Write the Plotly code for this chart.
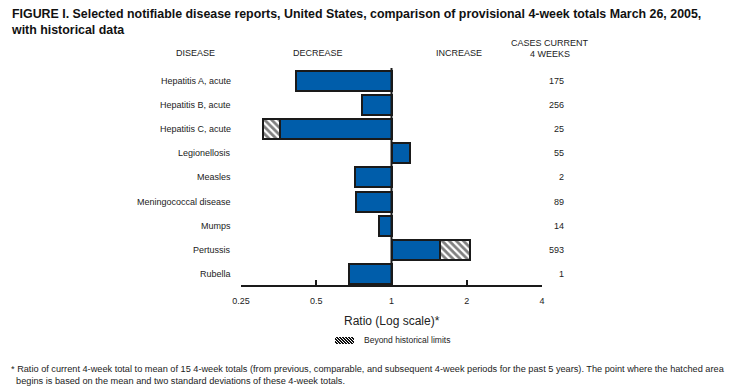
import math
import plotly.graph_objects as go

diseases = ["Hepatitis A, acute", "Hepatitis B, acute", "Hepatitis C, acute",
            "Legionellosis", "Measles", "Meningococcal disease", "Mumps",
            "Pertussis", "Rubella"]
ratio = [0.414, 0.763, 0.357, 1.19, 0.712, 0.721, 0.895, 1.557, 0.678]
hatch_start = [None, None, 0.305, None, None, None, None, 1.557, None]
hatch_end = [None, None, 0.357, None, None, None, None, 2.06, None]
cases = [175, 256, 25, 55, 2, 89, 14, 593, 1]
tick_vals = [0.25, 0.5, 1, 2, 4]
tick_text = ["0.25", "0.5", "1", "2", "4"]

W, H = 740, 389
L, R, T, B = 241, 542, 68, 285
FONT = "Liberation Sans, Arial, sans-serif"
BLUE = "#005DAA"
EDGE = "#1a1a1a"


def px(xp):
    return (xp - L) / (R - L)


def py(yp):
    return (B - yp) / (B - T)


fig = go.Figure()

# blue part from 1 to ratio
fig.add_trace(go.Bar(
    y=diseases, x=[r - 1 for r in ratio], base=[1] * len(ratio),
    orientation="h", width=0.83,
    marker=dict(color=BLUE, line=dict(color=EDGE, width=2)),
    showlegend=False, hoverinfo="skip"))

# hatched part
hy, hx, hb = [], [], []
for d, s, e in zip(diseases, hatch_start, hatch_end):
    if s is not None:
        hy.append(d)
        hb.append(s)
        hx.append(e - s)
fig.add_trace(go.Bar(
    y=hy, x=hx, base=hb, orientation="h", width=0.83,
    name="Beyond historical limits",
    marker=dict(color="white", line=dict(color=EDGE, width=2),
                pattern=dict(shape="\\", fgcolor="black", bgcolor="white",
                             size=5, solidity=0.55)),
    showlegend=False, hoverinfo="skip"))

ann = []
for d, c in zip(diseases, cases):
    ann.append(dict(x=px(233), xref="paper", y=d, yref="y", text=d,
                    xanchor="right", yanchor="middle", showarrow=False,
                    font=dict(size=9, color="#222")))
    ann.append(dict(x=px(566), xref="paper", y=d, yref="y", text=str(c),
                    xanchor="right", yanchor="middle", showarrow=False,
                    font=dict(size=9, color="#222")))

# headers
ann += [
    dict(x=px(195), y=py(53), text="DISEASE", xanchor="center"),
    dict(x=px(318), y=py(53), text="DECREASE", xanchor="center"),
    dict(x=px(459), y=py(53), text="INCREASE", xanchor="center"),
    dict(x=px(550), y=py(43), text="CASES CURRENT", xanchor="center"),
    dict(x=px(550), y=py(54), text="4 WEEKS", xanchor="center"),
]
for a in ann[-5:]:
    a.update(xref="paper", yref="paper", yanchor="middle", showarrow=False,
             font=dict(size=9, color="#222"))

ann.append(dict(x=px(9), y=py(5), xref="paper", yref="paper", xanchor="left",
                yanchor="top", showarrow=False, align="left",
                text="<b>FIGURE I. Selected notifiable disease reports, United States, comparison of provisional 4-week totals March 26, 2005,<br>with historical data</b>",
                font=dict(size=12.4, color="#111")))
ann.append(dict(x=px(392), y=py(321), xref="paper", yref="paper", xanchor="center",
                yanchor="middle", showarrow=False, text="Ratio (Log scale)*",
                font=dict(size=12, color="#222")))
ann.append(dict(x=px(362), y=py(340), xref="paper", yref="paper", xanchor="left",
                yanchor="middle", showarrow=False, text="Beyond historical limits",
                font=dict(size=8.5, color="#222")))
ann.append(dict(x=px(9), y=py(362), xref="paper", yref="paper", xanchor="left",
                yanchor="top", showarrow=False, align="left",
                text="* Ratio of current 4-week total to mean of 15 4-week totals (from previous, comparable, and subsequent 4-week periods for the past 5 years). The point where the hatched area<br>  begins is based on the mean and two standard deviations of these 4-week totals.",
                font=dict(size=9.2, color="#222")))

shapes = [dict(type="line", xref="x", yref="paper", x0=1, x1=1, y0=0, y1=1,
               line=dict(color=EDGE, width=2))]

# legend key: small hatched box
bx0, bx1, by0, by1 = 335, 354, 337, 344
shapes.append(dict(type="rect", xref="paper", yref="paper",
                   x0=px(bx0), x1=px(bx1), y0=py(by1), y1=py(by0),
                   fillcolor="#111", line=dict(width=0)))
hgt = by1 - by0
k = bx0 - hgt + 1
while k < bx1:
    t0 = max(0, bx0 - k)
    t1 = min(hgt, bx1 - k)
    if t1 > t0:
        shapes.append(dict(type="line", xref="paper", yref="paper",
                           x0=px(k + t0), y0=py(by0 + t0),
                           x1=px(k + t1), y1=py(by0 + t1),
                           line=dict(color="white", width=1)))
    k += 3

fig.update_layout(
    width=W, height=H,
    margin=dict(l=L, r=W - R, t=T, b=H - B, pad=0),
    paper_bgcolor="white", plot_bgcolor="white",
    barmode="overlay", bargap=0,
    font=dict(family=FONT, color="#222"),
    annotations=ann,
    shapes=shapes,
    showlegend=False,
    xaxis=dict(type="log", range=[math.log10(0.25), math.log10(4)],
               tickvals=tick_vals, ticktext=tick_text,
               showline=True, linecolor=EDGE, linewidth=1.5,
               ticks="inside", ticklen=5, tickwidth=1.5, tickcolor=EDGE,
               showgrid=False, zeroline=False,
               tickfont=dict(size=9), ticklabelstandoff=6, fixedrange=True),
    yaxis=dict(type="category", categoryorder="array", categoryarray=diseases,
               range=[8.46, -0.54], showticklabels=False, showgrid=False,
               zeroline=False, showline=False, ticks="", fixedrange=True),
)

fig.write_html("out.html", config={"displayModeBar": False},
               post_script="document.body.style.margin='0';document.body.style.overflow='hidden';")
